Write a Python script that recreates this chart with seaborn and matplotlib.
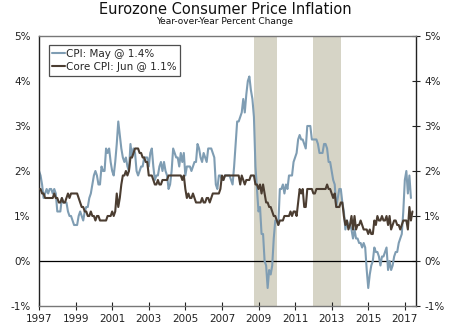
import numpy as np
import pandas as pd
import matplotlib
matplotlib.use("Agg")
import matplotlib.pyplot as plt
import seaborn as sns

# Monthly values, Jan 1997 onward
cpi = [
    2.0,1.9,1.7,1.4,1.5,1.6,1.5,1.6,1.6,1.5,1.6,1.5,   # 1997
    1.1,1.1,1.1,1.4,1.3,1.3,1.3,1.1,1.0,1.0,0.9,0.8,   # 1998
    0.8,0.8,1.0,1.1,1.0,0.9,1.1,1.2,1.2,1.4,1.5,1.7,   # 1999
    1.9,2.0,1.9,1.7,1.7,2.1,2.0,2.0,2.5,2.4,2.5,2.2,   # 2000
    2.0,1.9,2.2,2.6,3.1,2.8,2.5,2.3,2.2,2.3,2.1,2.0,   # 2001
    2.6,2.3,2.5,2.4,2.0,1.9,2.0,2.1,2.1,2.3,2.3,2.3,   # 2002
    2.1,2.4,2.5,2.1,1.8,1.9,1.9,2.1,2.2,2.0,2.2,2.0,   # 2003
    1.9,1.6,1.7,2.0,2.5,2.4,2.3,2.3,2.1,2.4,2.2,2.4,   # 2004
    1.9,2.1,2.1,2.1,2.0,2.1,2.2,2.2,2.6,2.5,2.3,2.2,   # 2005
    2.4,2.3,2.2,2.5,2.5,2.5,2.4,2.3,1.7,1.6,1.9,1.9,   # 2006
    1.8,1.8,1.9,1.9,1.9,1.9,1.8,1.7,2.1,2.6,3.1,3.1,   # 2007
    3.2,3.3,3.6,3.3,3.7,4.0,4.1,3.8,3.6,3.2,2.1,1.6,   # 2008
    1.1,1.2,0.6,0.6,0.0,-0.1,-0.6,-0.2,-0.3,-0.1,0.5,0.9,  # 2009
    0.9,0.8,1.6,1.6,1.7,1.5,1.7,1.6,1.9,1.9,1.9,2.2,   # 2010
    2.3,2.4,2.7,2.8,2.7,2.7,2.6,2.5,3.0,3.0,3.0,2.7,   # 2011
    2.7,2.7,2.7,2.6,2.4,2.4,2.4,2.6,2.6,2.5,2.2,2.2,   # 2012
    2.0,1.8,1.7,1.2,1.4,1.6,1.6,1.3,1.1,0.7,0.9,0.8,   # 2013
    0.8,0.7,0.5,0.7,0.5,0.5,0.4,0.4,0.3,0.4,0.3,-0.2,  # 2014
    -0.6,-0.3,-0.1,0.0,0.3,0.2,0.2,0.1,-0.1,0.1,0.1,0.2,  # 2015
    0.3,-0.2,0.0,-0.2,-0.1,0.1,0.2,0.2,0.4,0.5,0.6,1.1,   # 2016
    1.8,2.0,1.5,1.9,1.4,                               # 2017
]
core = [
    1.6,1.6,1.5,1.5,1.4,1.4,1.4,1.4,1.4,1.4,1.5,1.4,   # 1997
    1.4,1.3,1.3,1.4,1.3,1.3,1.4,1.5,1.4,1.5,1.5,1.5,   # 1998
    1.5,1.5,1.4,1.3,1.2,1.2,1.1,1.1,1.0,1.0,1.1,1.0,   # 1999
    1.0,0.9,1.0,1.0,0.9,0.9,0.9,0.9,0.9,1.0,1.0,1.0,   # 2000
    1.1,1.0,1.1,1.5,1.2,1.4,1.7,1.9,1.9,2.0,1.9,2.0,   # 2001
    2.3,2.3,2.4,2.5,2.5,2.5,2.4,2.4,2.3,2.3,2.2,2.2,   # 2002
    1.9,1.9,1.9,1.8,1.7,1.7,1.8,1.7,1.7,1.8,1.8,1.8,   # 2003
    1.8,1.9,1.9,1.9,1.9,1.9,1.9,1.9,1.9,1.9,1.8,1.9,   # 2004
    1.6,1.4,1.5,1.4,1.4,1.5,1.4,1.3,1.3,1.3,1.3,1.4,   # 2005
    1.3,1.3,1.4,1.4,1.3,1.4,1.5,1.5,1.5,1.5,1.5,1.6,   # 2006
    1.9,1.8,1.9,1.9,1.9,1.9,1.9,1.9,1.9,1.9,1.9,1.9,   # 2007
    1.7,1.9,1.8,1.7,1.8,1.8,1.8,1.9,1.9,1.9,1.7,1.7,   # 2008
    1.6,1.7,1.5,1.7,1.5,1.3,1.3,1.2,1.2,1.1,1.0,1.0,   # 2009
    0.9,0.8,0.9,0.9,0.9,1.0,1.0,1.0,1.0,1.1,1.0,1.1,   # 2010
    1.1,1.0,1.3,1.6,1.5,1.6,1.2,1.2,1.6,1.6,1.6,1.6,   # 2011
    1.5,1.5,1.6,1.6,1.6,1.6,1.6,1.6,1.6,1.7,1.6,1.6,   # 2012
    1.5,1.4,1.5,1.2,1.2,1.2,1.3,1.3,1.0,0.8,0.9,0.7,   # 2013
    0.8,1.0,0.7,1.0,0.7,0.8,0.8,0.9,0.8,0.7,0.7,0.7,   # 2014
    0.6,0.7,0.6,0.6,0.9,0.8,1.0,0.9,0.9,1.0,0.9,0.9,   # 2015
    1.0,0.8,1.0,0.7,0.8,0.9,0.9,0.8,0.8,0.7,0.8,0.9,   # 2016
    0.9,0.9,0.7,1.2,0.9,1.1,                           # 2017
]
recessions = [(2008.75, 2010.0), (2012.0, 2013.5)]
x_ticks = list(range(1997, 2018, 2))
y_ticks = [-1, 0, 1, 2, 3, 4, 5]
cpi_label = "CPI: May @ 1.4%"
core_label = "Core CPI: Jun @ 1.1%"

t_cpi = 1997 + np.arange(len(cpi)) / 12
t_core = 1997 + np.arange(len(core)) / 12
df_cpi = pd.DataFrame({"t": t_cpi, "v": cpi})
df_core = pd.DataFrame({"t": t_core, "v": core})

sns.set_style("white")
plt.rcParams["font.family"] = ["DejaVu Sans"]

fig = plt.figure(figsize=(4.5, 3.3), dpi=100)
ax = fig.add_axes([0.0867, 0.0727, 0.8373, 0.8183])

for a, b in recessions:
    ax.axvspan(a, b, color="#d6d4c6", lw=0, zorder=0)
ax.axhline(0, color="black", lw=0.9, zorder=1)

sns.lineplot(data=df_cpi, x="t", y="v", ax=ax, color="#7f9db3", lw=1.5,
             label=cpi_label, zorder=2)
sns.lineplot(data=df_core, x="t", y="v", ax=ax, color="#4b3d31", lw=1.5,
             label=core_label, zorder=3)

ax.set_xlim(1997, 2017.6)
ax.set_ylim(-1, 5)
ax.set_xticks(x_ticks)
ax.set_xticklabels([str(v) for v in x_ticks], fontsize=7.5)
ax.set_yticks(y_ticks)
ax.set_yticklabels([f"{v}%" for v in y_ticks], fontsize=7.5)
ax.set_xlabel("")
ax.set_ylabel("")
ax.tick_params(axis="both", direction="inout", length=6, width=0.8,
               colors="#222222", pad=3)
ax.tick_params(axis="y", right=True, labelright=True)
ax.tick_params(axis="x", bottom=True)

for s in ["left", "right"]:
    ax.spines[s].set_color("#222222")
    ax.spines[s].set_linewidth(1.0)
for s in ["top", "bottom"]:
    ax.spines[s].set_color("#777777")
    ax.spines[s].set_linewidth(1.0)

leg = ax.legend(loc="upper left", bbox_to_anchor=(0.012, 0.985), fontsize=7.5,
                frameon=True, fancybox=False, handlelength=1.2,
                handletextpad=0.1, borderpad=0.35, labelspacing=0.3)
leg.get_frame().set_edgecolor("#222222")
leg.get_frame().set_linewidth(0.9)

fig.text(0.5, 0.993, "Eurozone Consumer Price Inflation", ha="center",
         va="top", fontsize=10.5, color="#111111")
fig.text(0.5, 0.948, "Year-over-Year Percent Change", ha="center",
         va="top", fontsize=6.5, color="#111111")

fig.savefig("out.png", dpi=100)
